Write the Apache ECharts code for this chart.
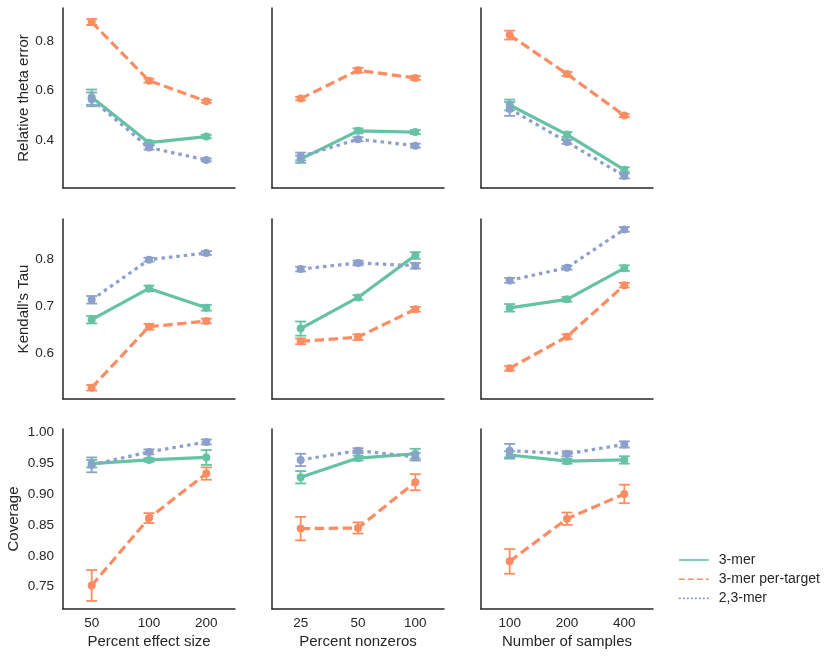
<!DOCTYPE html>
<html>
<head>
<meta charset="utf-8">
<script src="https://cdn.jsdelivr.net/npm/echarts@6/dist/echarts.min.js"></script>
<style>html,body{margin:0;padding:0;background:#fff}#c{width:831px;height:657px}</style>
</head>
<body>
<div id="c"></div>
<script>
// ---- data (rows: metrics; each inner array = one column panel) ----
const catsEffect = ['50', '100', '200'];
const catsNonzero = ['25', '50', '100'];
const catsSamples = ['100', '200', '400'];
const xNames = ['Percent effect size', 'Percent nonzeros', 'Number of samples'];
const yNames = ['Relative theta error', "Kendall's Tau", 'Coverage'];
const seriesNames = ['3-mer', '3-mer per-target', '2,3-mer'];

// Relative theta error
const theta3mer    = [[0.574, 0.389, 0.414], [0.322, 0.437, 0.432], [0.542, 0.422, 0.279]];
const theta3merErr = [[0.031, 0.008, 0.007], [0.015, 0.010, 0.008], [0.022, 0.010, 0.010]];
const thetaPT      = [[0.879, 0.641, 0.557], [0.568, 0.683, 0.652], [0.826, 0.668, 0.499]];
const thetaPTErr   = [[0.012, 0.008, 0.006], [0.007, 0.010, 0.008], [0.018, 0.008, 0.006]];
const theta23      = [[0.565, 0.369, 0.319], [0.333, 0.403, 0.377], [0.526, 0.392, 0.254]];
const theta23Err   = [[0.028, 0.008, 0.006], [0.016, 0.008, 0.008], [0.028, 0.008, 0.010]];

// Kendall's Tau
const tau3mer    = [[0.672, 0.738, 0.697], [0.653, 0.719, 0.808], [0.697, 0.715, 0.781]];
const tau3merErr = [[0.008, 0.006, 0.006], [0.015, 0.005, 0.007], [0.008, 0.005, 0.006]];
const tauPT      = [[0.528, 0.657, 0.669], [0.626, 0.635, 0.694], [0.569, 0.636, 0.745]];
const tauPTErr   = [[0.006, 0.006, 0.005], [0.006, 0.006, 0.005], [0.005, 0.005, 0.005]];
const tau23      = [[0.714, 0.799, 0.813], [0.779, 0.792, 0.786], [0.755, 0.782, 0.863]];
const tau23Err   = [[0.008, 0.004, 0.004], [0.005, 0.005, 0.006], [0.005, 0.004, 0.005]];

// Coverage
const cov3mer    = [[0.949, 0.955, 0.959], [0.927, 0.958, 0.965], [0.963, 0.953, 0.955]];
const cov3merErr = [[0.006, 0.003, 0.012], [0.010, 0.004, 0.008], [0.006, 0.004, 0.006]];
const covPT      = [[0.752, 0.861, 0.933], [0.844, 0.845, 0.919], [0.791, 0.860, 0.900]];
const covPTErr   = [[0.025, 0.008, 0.010], [0.019, 0.009, 0.013], [0.020, 0.010, 0.015]];
const cov23      = [[0.947, 0.968, 0.984], [0.955, 0.970, 0.960], [0.970, 0.965, 0.980]];
const cov23Err   = [[0.012, 0.004, 0.004], [0.010, 0.004, 0.006], [0.011, 0.004, 0.005]];

const yTicksTheta = [0.4, 0.6, 0.8];
const yTicksTau = [0.6, 0.7, 0.8];
const yTicksCov = [0.75, 0.80, 0.85, 0.90, 0.95, 1.00];

// ---- layout / style ----
const cats = [catsEffect, catsNonzero, catsSamples];
const rowsData = [
  [[theta3mer, theta3merErr], [thetaPT, thetaPTErr], [theta23, theta23Err]],
  [[tau3mer, tau3merErr], [tauPT, tauPTErr], [tau23, tau23Err]],
  [[cov3mer, cov3merErr], [covPT, covPTErr], [cov23, cov23Err]]
];
const yRanges = [[0.205, 0.936], [0.504, 0.885], [0.714, 1.005]];
const yTicks = [yTicksTheta, yTicksTau, yTicksCov];
const yDec = [1, 1, 2];
const colors = ['#66c2a5', '#fc8d62', '#8da0cb'];
const dashes = ['solid', [9.5, 4.5], [3.5, 4]];
const legendDashes = ['solid', [6, 3], [2, 2]];
const lefts = [63, 272, 481];
const tops = [8, 219, 429];
const W = 172, H = 180;
const txt = '#262626';
const font = "'Liberation Sans', Arial, sans-serif";

const grid = [], xAxis = [], yAxis = [], series = [];
let gi = 0;
for (let r = 0; r < 3; r++) {
  for (let c = 0; c < 3; c++) {
    grid.push({left: lefts[c], top: tops[r], width: W, height: H, containLabel: false});
    const bottomRow = r === 2;
    xAxis.push({
      type: 'category', gridIndex: gi, data: cats[c], boundaryGap: true,
      axisLine: {show: true, lineStyle: {color: txt, width: 1.5}},
      axisTick: {show: false}, splitLine: {show: false},
      axisLabel: {show: bottomRow, color: txt, fontSize: 13.5, fontFamily: font, margin: 7},
      name: bottomRow ? xNames[c] : '', nameLocation: 'middle', nameGap: 25,
      nameTextStyle: {color: txt, fontSize: 15, fontFamily: font}
    });
    const dec = yDec[r];
    yAxis.push({
      type: 'value', gridIndex: gi, min: yRanges[r][0], max: yRanges[r][1],
      axisLine: {show: true, lineStyle: {color: txt, width: 1.5}},
      axisTick: {show: false}, splitLine: {show: false},
      axisLabel: {show: c === 0, color: txt, fontSize: 13.5, fontFamily: font, margin: 9,
        customValues: yTicks[r], formatter: v => Number(v).toFixed(dec)},
      name: c === 0 ? yNames[r] : '', nameLocation: 'middle', nameRotate: 90,
      nameGap: r === 2 ? 42 : 32,
      nameTextStyle: {color: txt, fontSize: 15, fontFamily: font}
    });
    for (let s = 0; s < 3; s++) {
      const mean = rowsData[r][s][0][c];
      const err = rowsData[r][s][1][c];
      const col = colors[s];
      const ebData = mean.map((m, i) => [i, m - err[i], m + err[i]]);
      series.push({
        type: 'custom', xAxisIndex: gi, yAxisIndex: gi, z: 2 + s * 3,
        silent: true,
        renderItem: function (params, api) {
          const x = api.value(0);
          const p1 = api.coord([x, api.value(2)]);
          const p2 = api.coord([x, api.value(1)]);
          const w = 5.5;
          const st = {stroke: col, lineWidth: 1.8, fill: null};
          return {type: 'group', children: [
            {type: 'line', shape: {x1: p1[0], y1: p1[1], x2: p2[0], y2: p2[1]}, style: st},
            {type: 'line', shape: {x1: p1[0] - w, y1: p1[1], x2: p1[0] + w, y2: p1[1]}, style: st},
            {type: 'line', shape: {x1: p2[0] - w, y1: p2[1], x2: p2[0] + w, y2: p2[1]}, style: st}
          ]};
        },
        data: ebData
      });
      series.push({
        name: seriesNames[s], type: 'line', xAxisIndex: gi, yAxisIndex: gi,
        z: 3 + s * 3, symbol: 'none', silent: true,
        lineStyle: {color: col, width: 3.2, type: dashes[s]},
        itemStyle: {color: col},
        data: mean
      });
      series.push({
        type: 'scatter', xAxisIndex: gi, yAxisIndex: gi, z: 4 + s * 3,
        symbol: 'circle', symbolSize: 8, silent: true,
        itemStyle: {color: col, opacity: 1},
        data: mean
      });
    }
    gi++;
  }
}

const chart = echarts.init(document.getElementById('c'), null, {renderer: 'canvas'});
chart.setOption({
  animation: false,
  backgroundColor: '#fff',
  textStyle: {fontFamily: font},
  grid, xAxis, yAxis, series,
  legend: {
    orient: 'vertical', left: 673, top: 548, itemWidth: 30, itemHeight: 14, itemGap: 5.2,
    selectedMode: false,
    textStyle: {color: txt, fontSize: 14, fontFamily: font, padding: [0, 0, 0, 5]},
    data: seriesNames.map((n, i) => ({
      name: n,
      itemStyle: {opacity: 0},
      lineStyle: {width: 1.6, color: colors[i], type: legendDashes[i], opacity: 1}
    }))
  }
});
</script>
</body>
</html>
